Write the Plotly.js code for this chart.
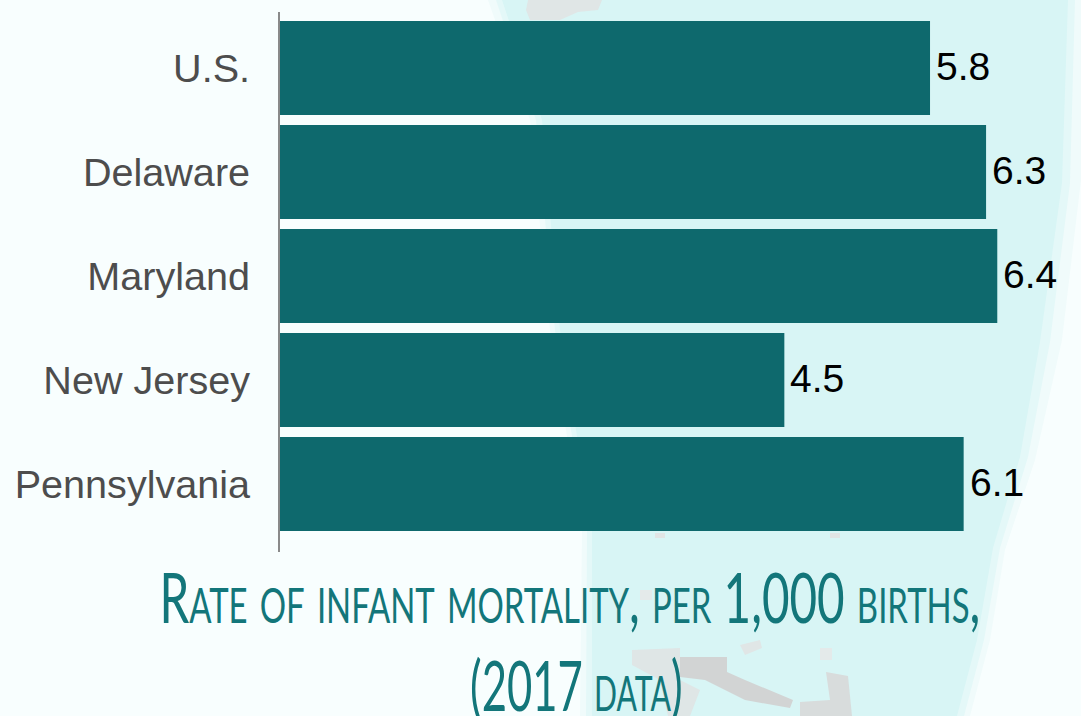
<!DOCTYPE html>
<html><head><meta charset="utf-8">
<script src="https://cdn.plot.ly/plotly-3.0.1.min.js"></script>
<style>html,body{margin:0;padding:0;background:#f8fefe;overflow:hidden}</style>
</head><body><div id="chart" style="width:1081px;height:716px"></div>
<script>
const categories = ["U.S.","Delaware","Maryland","New Jersey","Pennsylvania"];
const rates = [5.8,6.3,6.4,4.5,6.1];
const rateLabels = ["5.8","6.3","6.4","4.5","6.1"];
const titleLines = ["Rate of infant mortality, per 1,000 births,","(2017 data)"];
const titleWidths = [824,213];
const barColor = "#0e696d";
const W=1081,H=716;
const px = x => (x-280)/801, py = y => (552-y)/540;
function poly(pts,color){return {type:"path",xref:"paper",yref:"paper",layer:"below",line:{width:0},fillcolor:color,
  path:"M"+pts.map(p=>px(p[0])+","+py(p[1])).join(" L")+" Z"};}
const bg = [
 poly([[488,0],[1081,0],[1081,180],[1062,340],[1035,460],[1005,550],[990,640],[970,716],[580,716],[582,530],[550,330],[530,120]],"#f0fbfb"),
 poly([[496,0],[1075,0],[1070,183],[1050,342],[1028,457],[1000,548],[984,640],[964,716],[586,716],[587,530],[555,330],[536,120]],"#e4f8f8"),
 poly([[502,0],[1068,0],[1062,183],[1040,342],[1020,457],[993,548],[977,640],[957,716],[592,716],[592,530],[560,330],[542,120]],"#d8f5f5"),
 poly([[528,0],[602,0],[598,10],[578,12],[560,20],[530,20],[526,10]],"#e0e6e6"),
 poly([[632,650],[680,648],[680,680],[700,690],[690,716],[668,716],[660,680],[632,665]],"#dfe6e6"),
 poly([[680,657],[727,657],[727,672],[745,680],[793,700],[790,708],[745,700],[705,680],[680,677]],"#d2d4d4"),
 poly([[826,672],[848,676],[852,716],[800,716],[800,702],[830,700]],"#d8dcdc"),
 poly([[655,533],[665,533],[665,538],[655,538]],"#e0e4e4"),
 poly([[830,533],[840,533],[840,538],[830,538]],"#e0e4e4"),
 poly([[640,590],[652,590],[652,600],[640,600]],"#e4eaea"),
 poly([[740,645],[760,640],[762,648],[745,655]],"#e0e6e6"),
 poly([[820,648],[832,648],[832,660],[820,660]],"#e4eaea")
];
Plotly.newPlot("chart",[{
  type:"bar",orientation:"h",y:categories,x:rates,
  marker:{color:barColor,line:{width:0}},hoverinfo:"skip"
}],{
  width:W,height:H,margin:{l:280,r:0,t:12,b:164},
  paper_bgcolor:"#f8fefe",plot_bgcolor:"rgba(0,0,0,0)",bargap:0.096,showlegend:false,
  xaxis:{range:[0,7.147],visible:false},
  yaxis:{range:[4.654,-0.538],showline:true,linecolor:"#8a8a8a",linewidth:2,ticks:"",ticklen:0,ticklabelstandoff:20,
    tickfont:{family:"Liberation Sans",size:39.6,color:"#4d4d4d"},showgrid:false},
  shapes:bg,
  annotations:rates.map((v,i)=>({x:v,y:categories[i],xref:"x",yref:"y",xanchor:"left",yanchor:"middle",xshift:4,yshift:1,showarrow:false,
      text:rateLabels[i],font:{family:"Liberation Sans",size:39,color:"#000"}}))
    .concat(titleLines.map((t,i)=>({xref:"paper",yref:"paper",x:px(i?576:570),y:py(i?684:596),xanchor:"center",yanchor:"middle",showarrow:false,text:t,
    font:{family:"Lato",size:69,variant:"small-caps",color:"#13767a"}})))
},{displayModeBar:false,staticPlot:true}).then(gd=>{
  const texts=[...gd.querySelectorAll(".annotation text")].filter(el=>titleLines.includes(el.textContent));
  texts.forEach(el=>{
    const i=titleLines.indexOf(el.textContent);
    const s=titleWidths[i]/el.getBBox().width;
    el.style.transformBox="fill-box";
    el.style.transformOrigin="center";
    el.style.transform="scaleX("+s+")";
  });
});
</script></body></html>
